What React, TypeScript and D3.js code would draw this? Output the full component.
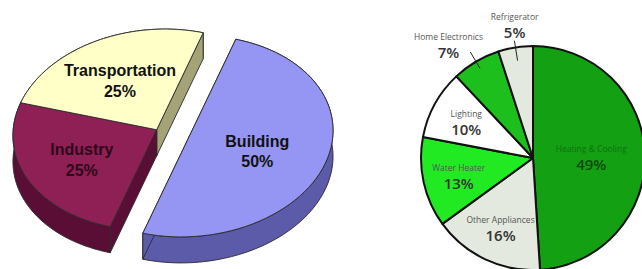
import React from 'react';
import * as d3 from 'd3';

// energy by sector (left, 3D exploded pie)
const sectorNames = ['Building', 'Industry', 'Transportation'];
const sectorShares = [50, 25, 25];
const sectorTop = ['#9595f3', '#8e2056', '#ffffc8'];
const sectorSide = ['#5b5baa', '#5a0e35', '#a3a377'];
const sectorText = ['#111111', '#2e0818', '#111111'];

// building energy use (right, flat pie)
const useNames = ['Heating & Cooling', 'Other Appliances', 'Water Heater', 'Lighting', 'Home Electronics', 'Refrigerator'];
const useShares = [49, 16, 13, 10, 7, 5];
const useColors = ['#13a013', '#e3e9de', '#22ea22', '#ffffff', '#1cbf1c', '#e3e9de'];
const useOutside = [false, false, false, false, true, true];

type Pt = [number, number];

function SectorPie() {
  // ellipse of the tilted disc: U points to 12 o'clock, V to 3 o'clock
  const U: Pt = [46.5, -97];
  const V: Pt = [136, 27];
  const depth = 26;
  const c0: Pt = [173, 133];

  const arcs = d3.pie<number>().sort(null).value(d => d)(sectorShares);

  const center = (i: number): Pt => {
    const k = sectorNames[i] === 'Building' ? 0.12 : -0.12;
    return [c0[0] + k * V[0], c0[1] + k * V[1]];
  };
  const proj = (c: Pt, a: number, k = 1): Pt => [
    c[0] + k * (Math.cos(a) * U[0] + Math.sin(a) * V[0]),
    c[1] + k * (Math.cos(a) * U[1] + Math.sin(a) * V[1]),
  ];
  const down = (p: Pt): Pt => [p[0], p[1] + depth];
  const rim = (c: Pt, a0: number, a1: number) => d3.range(0, 61).map(j => proj(c, a0 + ((a1 - a0) * j) / 60));
  const poly = d3.line<Pt>().curve(d3.curveLinearClosed);

  const outerWalls = arcs.map((d, i) => {
    const pts = rim(center(i), d.startAngle, d.endAngle);
    return poly([...pts, ...pts.slice().reverse().map(down)]) || '';
  });
  const edgeWalls: { d: string; i: number }[] = [];
  arcs.forEach((d, i) => {
    const c = center(i);
    [d.startAngle, d.endAngle].forEach(a => {
      const p = proj(c, a);
      edgeWalls.push({ i, d: poly([c, p, down(p), down(c)]) || '' });
    });
  });
  // paint back walls before front ones
  const wallOrder = [2, 0, 1];
  const tops = arcs.map((d, i) => poly([center(i), ...rim(center(i), d.startAngle, d.endAngle)]) || '');

  return (
    <g stroke="#2a2a2a" strokeWidth={0.9} strokeLinejoin="round">
      {wallOrder.map(i => (
        <path key={'o' + i} d={outerWalls[i]} fill={sectorSide[i]} />
      ))}
      {wallOrder.flatMap(i => edgeWalls.filter(e => e.i === i)).map((e, j) => (
        <path key={'e' + j} d={e.d} fill={sectorSide[e.i]} />
      ))}
      {tops.map((p, i) => (
        <path key={'t' + i} d={p} fill={sectorTop[i]} />
      ))}
      {arcs.map((d, i) => {
        const mid = (d.startAngle + d.endAngle) / 2;
        const [x, y] = proj(center(i), mid, sectorNames[i] === 'Building' ? 0.5 : 0.58);
        return (
          <text key={'l' + i} x={x} y={y} textAnchor="middle" stroke="none" fill={sectorText[i]}
            fontFamily="'Liberation Sans', Arial, sans-serif" fontWeight="bold" fontSize={16}>
            <tspan x={x} dy="-0.2em">{sectorNames[i]}</tspan>
            <tspan x={x} dy="1.3em">{sectorShares[i]}%</tspan>
          </text>
        );
      })}
    </g>
  );
}

function UsePie() {
  const cx = 533;
  const cy = 158;
  const r = 112;
  const arcs = d3.pie<number>().sort(null).value(d => d)(useShares);
  const arc = d3.arc<d3.PieArcDatum<number>>().innerRadius(0).outerRadius(r);
  const at = (a: number, k: number): Pt => [Math.sin(a) * r * k, -Math.cos(a) * r * k];

  return (
    <g transform={`translate(${cx},${cy})`} fontFamily="'Open Sans', 'Noto Sans', sans-serif">
      {arcs.map((d, i) => (
        <path key={i} d={arc(d) || ''} fill={useColors[i]} stroke="#111" strokeWidth={2} strokeLinejoin="round" />
      ))}
      {arcs.map((d, i) => {
        const mid = (d.startAngle + d.endAngle) / 2;
        const heating = i === 0;
        const labelFill = heating ? '#10700f' : '#555';
        const pctFill = heating ? '#0b4a0b' : '#333';
        if (!useOutside[i]) {
          const [x, y] = at(mid, heating ? 0.52 : 0.68);
          return (
            <g key={'l' + i}>
              <text x={x} y={y - 4} textAnchor="middle" fontSize={8.5} fill={labelFill}>{useNames[i]}</text>
              <text x={x} y={y + 14} textAnchor="middle" fontSize={15} fontWeight={600} fill={pctFill}>{useShares[i]}%</text>
            </g>
          );
        }
        const home = i === 4;
        const [x0, y0] = at(mid, home ? 0.93 : 0.88);
        const [x1, y1] = at(mid, home ? 1.1 : 1.06);
        const [lx, ly] = at(mid, 1.22);
        const shift = home ? -15 : 3;
        const lift = home ? 3 : 0;
        return (
          <g key={'l' + i}>
            <line x1={x0} y1={y0} x2={x1} y2={y1} stroke="#222" strokeWidth={1} />
            <text x={lx + shift} y={ly - 3 + lift} textAnchor="middle" fontSize={8.5} fill="#555">{useNames[i]}</text>
            <text x={lx + shift} y={ly + 15 + lift} textAnchor="middle" fontSize={15} fontWeight={600} fill="#333">{useShares[i]}%</text>
          </g>
        );
      })}
    </g>
  );
}

export default function App() {
  return (
    <div style={{ position: 'absolute', left: 0, top: 0, width: 642, height: 269, overflow: 'hidden', background: '#fff' }}>
      <svg width={642} height={269} style={{ display: 'block' }}>
        <rect width={642} height={269} fill="#fff" />
        <SectorPie />
        <UsePie />
      </svg>
    </div>
  );
}
